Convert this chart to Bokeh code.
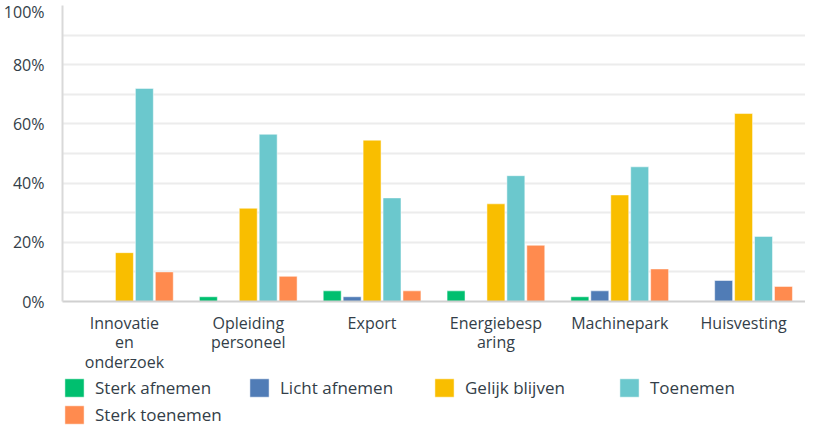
from bokeh.plotting import figure
from bokeh.layouts import column
from bokeh.models import (ColumnDataSource, FactorRange, FixedTicker, Legend, LegendItem,
                          NumeralTickFormatter)
from bokeh.transform import dodge
from bokeh.embed import file_html
from bokeh.resources import INLINE

categories = ["Innovatie\nen\nonderzoek", "Opleiding\npersoneel", "Export",
              "Energiebesp\naring", "Machinepark", "Huisvesting"]
sterk_afnemen = [0.0, 1.6, 3.6, 3.6, 1.6, 0.0]
licht_afnemen = [0.0, 0.0, 1.6, 0.0, 3.6, 7.1]
gelijk_blijven = [16.5, 31.5, 54.5, 33.0, 36.0, 63.5]
toenemen = [72.0, 56.5, 35.0, 42.5, 45.5, 22.0]
sterk_toenemen = [10.0, 8.5, 3.6, 19.0, 11.0, 5.1]

series_names = ["Sterk afnemen", "Licht afnemen", "Gelijk blijven", "Toenemen", "Sterk toenemen"]
series_keys = ["sa", "la", "gb", "t", "st"]
colors = ["#00bf6f", "#507cb6", "#f9be00", "#6bc8cd", "#ff8b4f"]
y_ticks = [0, 20, 40, 60, 80, 100]
grid_ticks = [10, 20, 30, 40, 50, 60, 70, 80, 90]

source = ColumnDataSource(dict(cat=categories, sa=sterk_afnemen, la=licht_afnemen,
                               gb=gelijk_blijven, t=toenemen, st=sterk_toenemen))

TEXT = "#333e48"
FONT = "Open Sans"
FS = "16px"

x_range = FactorRange(*categories, range_padding=0)
p = figure(x_range=x_range, y_range=(0, 100),
           width=805, height=376, output_backend="svg", toolbar_location=None,
           min_border_left=61, min_border_right=0, min_border_top=5, min_border_bottom=70)
p.outline_line_color = None
p.background_fill_color = "white"

offsets = [-0.322, -0.161, 0.0, 0.161, 0.322]
for key, col, off in zip(series_keys, colors, offsets):
    p.vbar(x=dodge("cat", off, range=x_range), top=key, width=0.145, source=source,
           fill_color=col, line_color="white", line_alpha=0.5, line_width=1)

# y axis
p.yaxis.ticker = FixedTicker(ticks=y_ticks)
p.yaxis.formatter = NumeralTickFormatter(format="0")
p.yaxis.major_label_overrides = {t: f"{t}%" for t in y_ticks}
p.yaxis.major_tick_line_color = None
p.yaxis.minor_tick_line_color = None
p.yaxis.axis_line_color = "#d9d9d9"
p.yaxis.axis_line_width = 2
p.yaxis.major_label_text_font = FONT
p.yaxis.major_label_text_font_size = FS
p.yaxis.major_label_text_color = TEXT
p.yaxis.major_label_standoff = 12

# x axis
p.xaxis.major_tick_line_color = None
p.xaxis.major_tick_out = 0
p.xaxis.axis_line_color = "#d0d0d0"
p.xaxis.axis_line_width = 2
p.xaxis.major_label_text_font = FONT
p.xaxis.major_label_text_font_size = FS
p.xaxis.major_label_text_color = TEXT
p.xaxis.major_label_text_line_height = 0.9
p.xaxis.major_label_standoff = 10

p.xgrid.grid_line_color = None
p.ygrid.ticker = FixedTicker(ticks=grid_ticks)
p.ygrid.grid_line_color = "#ececec"
p.ygrid.grid_line_width = 2

# legend strip (separate figure so it can sit below the wrapped category labels)
pl = figure(x_range=x_range, y_range=(0, 100), width=805, height=51,
            output_backend="svg", toolbar_location=None,
            min_border_left=59, min_border_right=0, min_border_top=0, min_border_bottom=0)
pl.axis.visible = False
pl.grid.visible = False
pl.outline_line_color = None
leg_renderers = []
for key, col in zip(series_keys, colors):
    r = pl.vbar(x="cat", top=key, width=0.145, source=source, fill_color=col,
                line_color="white", line_alpha=0.5, line_width=1, visible=False)
    leg_renderers.append(r)

legend = Legend(items=[LegendItem(label=n, renderers=[r]) for n, r in zip(series_names, leg_renderers)],
                orientation="horizontal", ncols=4, location="top_left", padding=0, margin=0, spacing=4,
                glyph_width=24, glyph_height=23, label_standoff=9, label_width=148, label_height=23,
                label_text_font=FONT, label_text_font_size="17px", label_text_color=TEXT,
                border_line_color=None, background_fill_alpha=0)
pl.add_layout(legend, "center")

layout = column(p, pl, spacing=0)
open("out.html", "w").write(file_html(layout, INLINE))
